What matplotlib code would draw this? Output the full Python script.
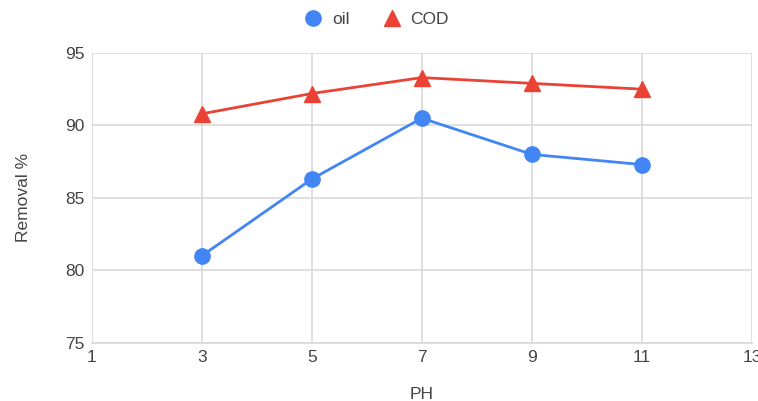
import matplotlib
matplotlib.use("Agg")
import matplotlib.pyplot as plt

plt.rcParams['font.family'] = ['Liberation Sans', 'DejaVu Sans']

ph = [3, 5, 7, 9, 11]
oil = [81.0, 86.3, 90.5, 88.0, 87.3]
cod = [90.8, 92.2, 93.3, 92.9, 92.5]
x_ticks = [1, 3, 5, 7, 9, 11, 13]
y_ticks = [75, 80, 85, 90, 95]

fig = plt.figure(figsize=(7.58, 4.01), dpi=100)
ax = fig.add_axes([0.121, 0.145, 0.871, 0.723])

ax.plot(ph, oil, color='#4285f4', lw=2, marker='o', ms=11, label='oil', zorder=3)
ax.plot(ph, cod, color='#ea4335', lw=2, marker='^', ms=11, label='COD', zorder=3)

ax.set_xlim(1, 13)
ax.set_ylim(75, 95)
ax.set_xticks(x_ticks)
ax.set_yticks(y_ticks)
ax.grid(True, color='#d9d9d9', lw=1.2)
ax.set_axisbelow(True)
for s in ['top', 'right', 'left']:
    ax.spines[s].set_visible(False)
ax.spines['bottom'].set_color('#d9d9d9')
ax.spines['bottom'].set_linewidth(1.2)
ax.tick_params(length=0, labelsize=12.5, labelcolor='#444444', pad=5)

ax.set_xlabel('PH', fontsize=12.5, color='#444444', labelpad=16)
ax.set_ylabel('Removal %', fontsize=12.5, color='#444444', labelpad=25)

leg = fig.legend(loc='upper center', bbox_to_anchor=(0.496, 1.01), ncol=2,
                 frameon=False, fontsize=12.5, handlelength=1.2, columnspacing=1.8,
                 handletextpad=0.5, labelcolor='#444444')
for h in leg.legend_handles:
    h.set_linestyle('none')

fig.savefig('out.png', dpi=100)
